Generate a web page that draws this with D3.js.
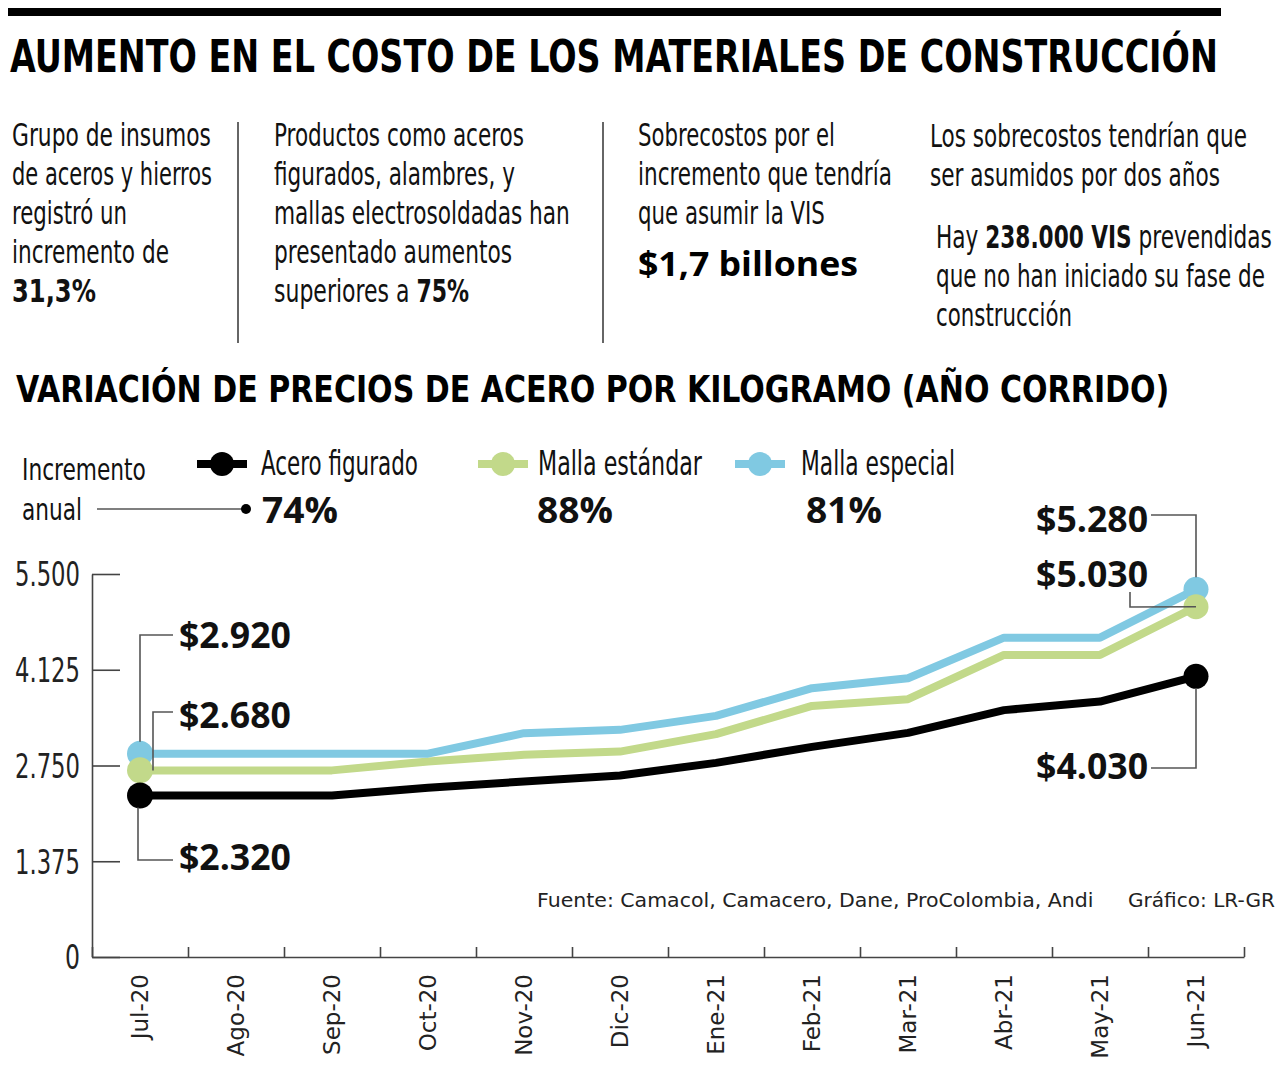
<!DOCTYPE html>
<html>
<head>
<meta charset="utf-8">
<script src="https://cdn.jsdelivr.net/npm/d3@7"></script>
<style>
  html, body { margin: 0; padding: 0; background: #fff; }
  svg { display: block; }
  .narrow { font-family: "Liberation Sans Narrow", "Arial Narrow", "DejaVu Sans Condensed", "Roboto Condensed", sans-serif; font-stretch: condensed; }
  .wide { font-family: "Open Sans", "DejaVu Sans", sans-serif; }
  .verd { font-family: "DejaVu Sans", Verdana, sans-serif; }
</style>
</head>
<body>
<script>
// ---------------- DATA ----------------
const months = ["Jul-20","Ago-20","Sep-20","Oct-20","Nov-20","Dic-20","Ene-21","Feb-21","Mar-21","Abr-21","May-21","Jun-21"];
const aceroFigurado = [2320, 2320, 2320, 2430, 2520, 2606, 2788, 3018, 3219, 3545, 3668, 4030];
const mallaEstandar = [2680, 2680, 2680, 2807, 2903, 2950, 3200, 3606, 3702, 4338, 4338, 5030];
const mallaEspecial = [2920, 2920, 2920, 2920, 3214, 3262, 3463, 3860, 4003, 4586, 4586, 5280];
const seriesNames = ["Acero figurado", "Malla estándar", "Malla especial"];
const annualIncrease = ["74%", "88%", "81%"];
const yTickValues = [0, 1375, 2750, 4125, 5500];

const title = "AUMENTO EN EL COSTO DE LOS MATERIALES DE CONSTRUCCIÓN";
const subtitle = "VARIACIÓN DE PRECIOS DE ACERO POR KILOGRAMO (AÑO CORRIDO)";
const sourceText = "Fuente: Camacol, Camacero, Dane, ProColombia, Andi";
const creditText = "Gráfico: LR-GR";

// paragraph columns: lines of [text, bold] segments
const col1 = [[["Grupo de insumos",0]],[["de aceros y hierros",0]],[["registró un",0]],[["incremento de",0]],[["31,3%",1]]];
const col2 = [[["Productos como aceros",0]],[["figurados, alambres, y",0]],[["mallas electrosoldadas han",0]],[["presentado aumentos",0]],[["superiores a ",0],["75%",1]]];
const col3 = [[["Sobrecostos por el",0]],[["incremento que tendría",0]],[["que asumir la VIS",0]]];
const col3b = "$1,7 billones";
const col4a = [[["Los sobrecostos tendrían que",0]],[["ser asumidos por dos años",0]]];
const col4b = [[["Hay ",0],["238.000 VIS",1],[" prevendidas",0]],[["que no han iniciado su fase de",0]],[["construcción",0]]];

// ---------------- LAYOUT ----------------
const W = 1283, H = 1069;
const colors = ["#000000", "#c2d98a", "#80c9e2"];
const series = [aceroFigurado, mallaEstandar, mallaEspecial];

const svg = d3.select("body").append("svg").attr("width", W).attr("height", H);

// top bar
svg.append("rect").attr("x", 8).attr("y", 8).attr("width", 1213).attr("height", 8).attr("fill", "#000");

// horizontally scale a text so that its width equals len (keeps glyph height)
function fitText(sel, len) {
  const node = sel.node();
  const xx = +sel.attr("x") || 0, yy = +sel.attr("y") || 0;
  sel.attr("x", null).attr("y", null);
  const nat = node.getComputedTextLength();
  const s = nat > 0 ? len / nat : 1;
  sel.attr("transform", `translate(${xx},${yy}) scale(${s},1)`);
  return sel;
}

// title
fitText(svg.append("text").attr("class", "narrow").attr("x", 10).attr("y", 72)
  .attr("font-size", 45).attr("font-weight", "bold").text(title), 1208);

// paragraphs
function para(lines, x, y0, lh, widths) {
  lines.forEach((segs, i) => {
    const t = svg.append("text").attr("class", "narrow").attr("x", x).attr("y", y0 + i * lh)
      .attr("font-size", 32).attr("fill", "#111");
    segs.forEach(s => t.append("tspan").attr("font-weight", s[1] ? "bold" : "normal").text(s[0]));
    if (widths && widths[i]) fitText(t, widths[i]);
  });
}
para(col1, 12, 146, 39, [199, 200, 115, 157, 84]);
para(col2, 274, 146, 39, [250, 241, 296, 238, 195]);
para(col3, 638, 146, 39, [197, 254, 187]);
fitText(svg.append("text").attr("class", "wide").attr("x", 638).attr("y", 276)
  .attr("font-size", 34).attr("font-weight", "bold").text(col3b), 220);
para(col4a, 930, 147, 39, [317, 290]);
para(col4b, 936, 248, 39, [336, 329, 136]);

// dividers
[238, 603].forEach(x => svg.append("line").attr("x1", x).attr("x2", x).attr("y1", 122).attr("y2", 343)
  .attr("stroke", "#333").attr("stroke-width", 1.5));

// subtitle
fitText(svg.append("text").attr("class", "narrow").attr("x", 16).attr("y", 402)
  .attr("font-size", 38).attr("font-weight", "bold").text(subtitle), 1154);

// ---------------- SCALES ----------------
const x = d3.scaleBand().domain(months).range([92, 1244]);
const xc = m => x(m) + x.bandwidth() / 2;
const xi = d3.scaleLinear().domain([0, months.length]).range([92, 1244]);
const y = d3.scaleLinear().domain([0, 5500]).range([957, 574]);
const fmt = d3.formatLocale({ decimal: ",", thousands: ".", grouping: [3], currency: ["$", ""] });
const numFmt = fmt.format(",d");

// y axis
const yAxis = svg.append("g").attr("transform", "translate(92,0)")
  .call(d3.axisLeft(y).tickValues(yTickValues).tickSizeInner(-28).tickSizeOuter(0).tickPadding(12).tickFormat(numFmt));
yAxis.select(".domain").attr("stroke", "#444").attr("stroke-width", 1.6);
yAxis.selectAll(".tick line").attr("stroke", "#444").attr("stroke-width", 1.6);
yAxis.selectAll(".tick text").each(function(d) {
  const t = d3.select(this).attr("class", "narrow").attr("font-size", 34).attr("fill", "#222")
    .attr("text-anchor", "end").attr("dy", "0.35em").attr("x", -12).attr("y", 0);
  fitText(t, d === 0 ? 15 : 65);
});

// x axis
const xAxis = svg.append("g").attr("transform", "translate(0,957)")
  .call(d3.axisBottom(xi).tickValues(d3.range(0, months.length + 1)).tickSizeInner(-10).tickSizeOuter(0).tickFormat(""));
xAxis.select(".domain").attr("stroke", "#444").attr("stroke-width", 1.6);
xAxis.selectAll(".tick line").attr("stroke", "#444").attr("stroke-width", 1.6);

// x labels
svg.append("g").selectAll("text").data(months).join("text")
  .attr("class", "verd").attr("font-size", 23).attr("fill", "#222")
  .attr("text-anchor", "end")
  .attr("transform", d => `translate(${xc(d)},974) rotate(-90)`)
  .attr("dy", "0.35em")
  .text(d => d);

// ---------------- LINES ----------------
const line = d3.line().x((d, i) => xc(months[i])).y(d => y(d));
series.forEach((s, k) => {
  svg.append("path").datum(s).attr("d", line).attr("fill", "none")
    .attr("stroke", colors[k]).attr("stroke-width", 8).attr("stroke-linejoin", "round");
});

const last = months.length - 1;
[2, 1, 0].forEach(k => {
  svg.append("circle").attr("cx", xc(months[0])).attr("cy", y(series[k][0])).attr("r", 13).attr("fill", colors[k]);
});
[2, 1, 0].forEach(k => {
  svg.append("circle").attr("cx", xc(months[last])).attr("cy", y(series[k][last])).attr("r", 12.5).attr("fill", colors[k]);
});

// ---------------- ANNOTATIONS ----------------
const money = v => "$" + numFmt(v);
const leader = pts => svg.append("path").attr("d", d3.line()(pts)).attr("fill", "none")
  .attr("stroke", "#555").attr("stroke-width", 1.6);
const valLabel = (txt, xx, yy, anchor) => fitText(svg.append("text").attr("class", "wide")
  .attr("font-size", 35).attr("font-weight", "bold").attr("fill", "#111")
  .attr("x", xx).attr("y", yy).attr("text-anchor", anchor).text(txt), 112);

const x0 = xc(months[0]), xN = xc(months[last]);
leader([[x0, y(mallaEspecial[0]) - 12], [x0, 635], [173, 635]]);
valLabel(money(mallaEspecial[0]), 179, 648, "start");
leader([[x0 + 13, y(mallaEstandar[0])], [x0 + 13, 712], [173, 712]]);
valLabel(money(mallaEstandar[0]), 179, 728, "start");
leader([[x0 - 2, y(aceroFigurado[0]) + 12], [x0 - 2, 860], [173, 860]]);
valLabel(money(aceroFigurado[0]), 179, 870, "start");
leader([[1151, 515], [xN, 515], [xN, y(mallaEspecial[last]) - 12]]);
valLabel(money(mallaEspecial[last]), 1148, 532, "end");
leader([[1130, 592], [1130, 607], [xN, y(mallaEstandar[last])]]);
valLabel(money(mallaEstandar[last]), 1148, 587, "end");
leader([[xN, y(aceroFigurado[last]) + 12], [xN, 768], [1151, 768]]);
valLabel(money(aceroFigurado[last]), 1148, 779, "end");

// ---------------- LEGEND ----------------
fitText(svg.append("text").attr("class", "narrow").attr("x", 22).attr("y", 480).attr("font-size", 31).attr("fill", "#111").text("Incremento"), 124);
fitText(svg.append("text").attr("class", "narrow").attr("x", 22).attr("y", 520).attr("font-size", 31).attr("fill", "#111").text("anual"), 60);
svg.append("line").attr("x1", 97).attr("x2", 244).attr("y1", 509).attr("y2", 509).attr("stroke", "#555").attr("stroke-width", 1.6);
svg.append("circle").attr("cx", 246).attr("cy", 509).attr("r", 5).attr("fill", "#000");

const legX = [222, 503, 760];
const legTextX = [261, 538, 801];
const legW = [157, 164, 154];
const pctX = [262, 537, 806];
seriesNames.forEach((n, k) => {
  svg.append("line").attr("x1", legX[k] - 25).attr("x2", legX[k] + 25).attr("y1", 464).attr("y2", 464)
    .attr("stroke", colors[k]).attr("stroke-width", 8);
  svg.append("circle").attr("cx", legX[k]).attr("cy", 464).attr("r", 12).attr("fill", colors[k]);
  fitText(svg.append("text").attr("class", "narrow").attr("x", legTextX[k]).attr("y", 475)
    .attr("font-size", 33).attr("fill", "#111").text(n), legW[k]);
  fitText(svg.append("text").attr("class", "wide").attr("x", pctX[k]).attr("y", 523)
    .attr("font-size", 35).attr("font-weight", "bold").attr("fill", "#111").text(annualIncrease[k]), 76);
});

// ---------------- SOURCE ----------------
fitText(svg.append("text").attr("class", "verd").attr("x", 537).attr("y", 907).attr("font-size", 19).attr("fill", "#222").text(sourceText), 557);
fitText(svg.append("text").attr("class", "verd").attr("x", 1128).attr("y", 907).attr("font-size", 19).attr("fill", "#222").text(creditText), 147);
</script>
</body>
</html>
